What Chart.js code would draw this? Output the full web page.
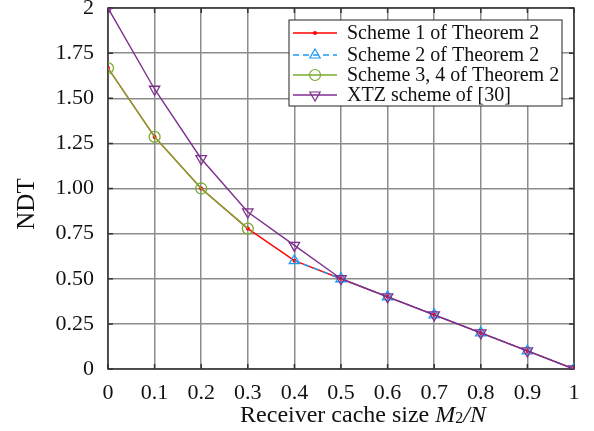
<!DOCTYPE html>
<html>
<head>
<meta charset="utf-8">
<script src="https://cdn.jsdelivr.net/npm/chart.js@4"></script>
<style>
html, body { margin: 0; padding: 0; background: #fff; }
#wrap { width: 594px; height: 431px; }
</style>
</head>
<body>
<div id="wrap"><canvas id="ndtChart"></canvas></div>
<script>
// Receiver cache size M2/N on the x axis
const cacheSizes = [0, 0.1, 0.2, 0.3, 0.4, 0.5, 0.6, 0.7, 0.8, 0.9, 1];
// NDT values per scheme (null = not plotted)
const scheme1 = [1.667, 1.286, 1.0, 0.778, 0.6, 0.5, 0.4, 0.3, 0.2, 0.1, 0];
const scheme2 = [null, null, null, null, 0.6, 0.5, 0.4, 0.3, 0.2, 0.1, 0];
const scheme34 = [1.667, 1.286, 1.0, 0.778, null, null, null, null, null, null, null];
const xtzScheme = [2, 1.55, 1.165, 0.87, 0.685, 0.5, 0.4, 0.3, 0.2, 0.1, 0];
// Tick labels
const xTickLabels = ['0', '0.1', '0.2', '0.3', '0.4', '0.5', '0.6', '0.7', '0.8', '0.9', '1'];
const yTickLabels = ['0', '0.25', '0.50', '0.75', '1.00', '1.25', '1.50', '1.75', '2'];
const seriesNames = ['Scheme 1 of Theorem 2', 'Scheme 2 of Theorem 2', 'Scheme 3, 4 of Theorem 2', 'XTZ scheme of [30]'];

const FONT = '"Liberation Serif", "Times New Roman", serif';

// Pairs x values with y values, drops the gaps.
const toPoints = ys => cacheSizes.map((x, i) => ({ x: x, y: ys[i] })).filter(p => p.y !== null);

// Draws box, inside ticks, axis titles and legend.
const decorations = {
    id: 'decorations',
    beforeDatasetsDraw(chart) {
        const { ctx, chartArea: a, scales } = chart;
        ctx.save();
        ctx.strokeStyle = '#333';
        ctx.lineWidth = 1.5;
        ctx.strokeRect(a.left, a.top, a.right - a.left, a.bottom - a.top);
        ctx.beginPath();
        scales.x.ticks.forEach(t => {
            const px = scales.x.getPixelForValue(t.value);
            ctx.moveTo(px, a.bottom); ctx.lineTo(px, a.bottom - 5);
            ctx.moveTo(px, a.top); ctx.lineTo(px, a.top + 5);
        });
        scales.y.ticks.forEach(t => {
            const py = scales.y.getPixelForValue(t.value);
            ctx.moveTo(a.left, py); ctx.lineTo(a.left + 5, py);
            ctx.moveTo(a.right, py); ctx.lineTo(a.right - 5, py);
        });
        ctx.stroke();
        ctx.restore();
    },
    afterDraw(chart) {
        const { ctx } = chart;
        ctx.save();
        ctx.fillStyle = '#111';
        // y axis title
        ctx.save();
        ctx.translate(27, 204);
        ctx.rotate(-Math.PI / 2);
        ctx.font = '25px ' + FONT;
        ctx.textAlign = 'center';
        ctx.textBaseline = 'middle';
        ctx.fillText('NDT', 0, 0);
        ctx.restore();
        // x axis title with italic parts
        const parts = [
            { t: 'Receiver cache size ', f: '24px ' + FONT, dy: 0 },
            { t: 'M', f: 'italic 24px ' + FONT, dy: 0 },
            { t: '2', f: '16px ' + FONT, dy: 1 },
            { t: '/N', f: 'italic 24px ' + FONT, dy: 0 }
        ];
        let total = 0;
        parts.forEach(p => { ctx.font = p.f; p.w = ctx.measureText(p.t).width; total += p.w; });
        let x = 363 - total / 2;
        ctx.textBaseline = 'alphabetic';
        parts.forEach(p => { ctx.font = p.f; ctx.fillText(p.t, x, 422 + p.dy); x += p.w; });

        // legend box
        const box = { l: 289, t: 20, r: 562, b: 106 };
        ctx.fillStyle = '#fff';
        ctx.fillRect(box.l, box.t, box.r - box.l, box.b - box.t);
        ctx.strokeStyle = '#222';
        ctx.lineWidth = 1;
        ctx.strokeRect(box.l, box.t, box.r - box.l, box.b - box.t);
        const rowsY = [33, 55, 75, 95];
        chart.data.datasets.forEach((ds, i) => {
            const y = rowsY[i];
            ctx.strokeStyle = ds.borderColor;
            ctx.lineWidth = ds.borderWidth;
            ctx.setLineDash(ds.borderDash || []);
            ctx.beginPath();
            ctx.moveTo(293, y); ctx.lineTo(337, y);
            ctx.stroke();
            ctx.setLineDash([]);
            ctx.fillStyle = ds.pointBackgroundColor;
            ctx.strokeStyle = ds.pointBorderColor;
            ctx.lineWidth = 1.2;
            Chart.helpers.drawPoint(ctx, {
                pointStyle: ds.pointStyle, radius: ds.pointRadius,
                rotation: ds.pointRotation || 0, borderWidth: 1.2
            }, 315, y);
            ctx.fillStyle = '#111';
            ctx.font = '20px ' + FONT;
            ctx.textBaseline = 'middle';
            ctx.fillText(ds.label, 347, y + 1);
        });
        ctx.restore();
    }
};

const ctx = document.getElementById('ndtChart').getContext('2d');
new Chart(ctx, {
    type: 'line',
    data: {
        datasets: [
            {
                label: seriesNames[0], data: toPoints(scheme1),
                borderColor: '#ff0000', borderWidth: 1.4,
                pointStyle: 'circle', pointRadius: 1.3,
                pointBackgroundColor: '#ff0000', pointBorderColor: '#ff0000',
                order: 4
            },
            {
                label: seriesNames[1], data: toPoints(scheme2),
                borderColor: '#1e9bf0', borderWidth: 1.4, borderDash: [6, 4],
                pointStyle: 'triangle', pointRadius: 6,
                pointBackgroundColor: 'rgba(0,0,0,0)', pointBorderColor: '#1e9bf0',
                pointBorderWidth: 1.3, order: 3
            },
            {
                label: seriesNames[2], data: toPoints(scheme34),
                borderColor: '#77ac30', borderWidth: 1.4,
                pointStyle: 'circle', pointRadius: 5.5,
                pointBackgroundColor: 'rgba(0,0,0,0)', pointBorderColor: '#77ac30',
                pointBorderWidth: 1.3, order: 2
            },
            {
                label: seriesNames[3], data: toPoints(xtzScheme),
                borderColor: '#7e2f8e', borderWidth: 1.4,
                pointStyle: 'triangle', pointRotation: 180, pointRadius: 6,
                pointBackgroundColor: 'rgba(0,0,0,0)', pointBorderColor: '#7e2f8e',
                pointBorderWidth: 1.3, order: 1
            }
        ]
    },
    options: {
        responsive: true,
        maintainAspectRatio: false,
        animation: false,
        devicePixelRatio: 1,
        layout: { padding: { top: 8, right: 20, left: 0, bottom: 0 } },
        elements: { line: { tension: 0 } },
        plugins: {
            legend: { display: false },
            tooltip: { enabled: false }
        },
        scales: {
            x: {
                type: 'linear', min: 0, max: 1,
                afterBuildTicks: scale => { scale.ticks = cacheSizes.map(v => ({ value: v })); },
                ticks: {
                    callback: (v, i) => xTickLabels[i],
                    color: '#111', font: { family: FONT, size: 22 }, padding: 11,
                    maxRotation: 0
                },
                grid: { color: '#8c8c8c', lineWidth: 1.5, drawTicks: false },
                border: { display: false },
                afterFit: scale => { scale.height = 62; scale.paddingLeft = 0; scale.paddingRight = 0; }
            },
            y: {
                min: 0, max: 2,
                afterBuildTicks: scale => { scale.ticks = yTickLabels.map((s, i) => ({ value: i * 0.25 })); },
                ticks: {
                    callback: (v, i) => yTickLabels[i],
                    color: '#111', font: { family: FONT, size: 22 }, padding: 14
                },
                grid: { color: '#8c8c8c', lineWidth: 1.5, drawTicks: false },
                border: { display: false },
                afterFit: scale => { scale.width = 108; scale.paddingTop = 0; scale.paddingBottom = 0; }
            }
        }
    },
    plugins: [decorations]
});
</script>
</body>
</html>
